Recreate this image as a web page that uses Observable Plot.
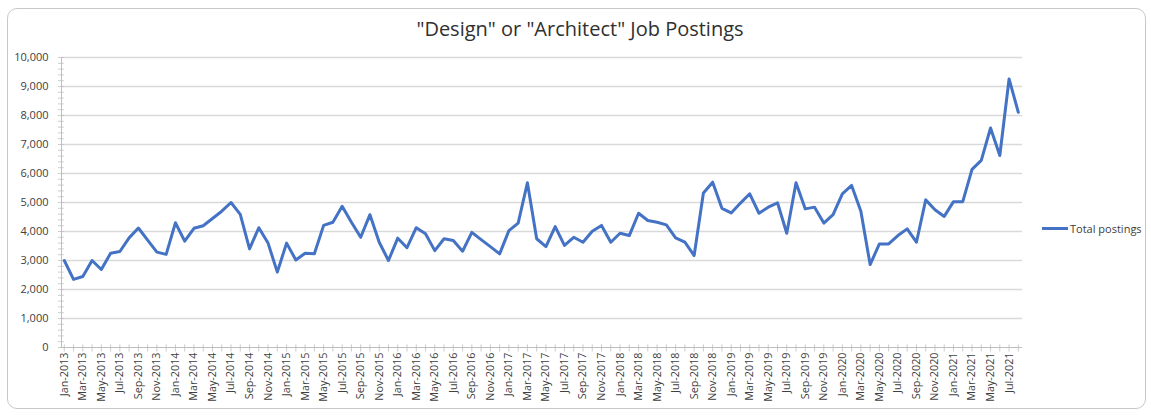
<!DOCTYPE html>
<html>
<head>
<meta charset="utf-8">
<script src="https://cdn.jsdelivr.net/npm/d3@7"></script>
<script src="https://cdn.jsdelivr.net/npm/@observablehq/plot@0.6"></script>
<style>
  html, body { margin: 0; padding: 0; background: #fff; }
  #wrap { position: relative; width: 1151px; height: 415px; overflow: hidden; font-family: "Open Sans", sans-serif; }
  #border { position: absolute; left: 7px; top: 8px; width: 1139px; height: 401px; border: 1px solid #c8c8c8; border-radius: 10px; box-sizing: border-box; }
  #title { position: absolute; left: 0; width: 1160px; top: 15px; text-align: center; font-size: 20px; color: #303030; }
  #chart { position: absolute; left: 0; top: 0; }
  #legend { position: absolute; left: 1042px; top: 221px; display: flex; align-items: center; font-size: 11px; color: #404040; }
  #legend .sw { width: 26px; height: 3px; background: #4472c4; margin-right: 2px; }
</style>
</head>
<body>
<div id="wrap">
  <div id="border"></div>
  <div id="chart"></div>
  <div id="title">"Design" or "Architect" Job Postings</div>
  <div id="legend"><span class="sw"></span><span>Total postings</span></div>
</div>
<script>
const monthNames = ["Jan","Feb","Mar","Apr","May","Jun","Jul","Aug","Sep","Oct","Nov","Dec"];
const years = [2013, 2014, 2015, 2016, 2017, 2018, 2019, 2020, 2021];
const seriesName = "Total postings";
const postings = [
  // 2013
  3000, 2350, 2450, 3000, 2690, 3250, 3310, 3780, 4120, 3700, 3290, 3210,
  // 2014
  4300, 3670, 4110, 4200, 4450, 4700, 5000, 4590, 3400, 4130, 3600, 2600,
  // 2015
  3600, 3020, 3250, 3230, 4210, 4320, 4870, 4320, 3800, 4580, 3630, 3000,
  // 2016
  3770, 3440, 4130, 3920, 3340, 3750, 3690, 3320, 3970, 3720, 3480, 3230,
  // 2017
  4030, 4290, 5680, 3750, 3480, 4170, 3520, 3800, 3630, 4010, 4210, 3630,
  // 2018
  3940, 3860, 4630, 4380, 4320, 4230, 3780, 3630, 3170, 5330, 5700, 4800,
  // 2019
  4640, 4980, 5300, 4630, 4840, 4990, 3940, 5680, 4780, 4840, 4290, 4580,
  // 2020
  5300, 5590, 4700, 2860, 3570, 3570, 3860, 4090, 3630, 5090, 4750, 4520,
  // 2021
  5030, 5030, 6140, 6450, 7570, 6620, 9260, 8110
];
const yTicks = [0, 1000, 2000, 3000, 4000, 5000, 6000, 7000, 8000, 9000, 10000];

const labels = postings.map((_, i) => monthNames[i % 12] + "-" + years[Math.floor(i / 12)]);
const data = postings.map((v, i) => ({i, label: labels[i], value: v}));
const idx = d3.range(postings.length);
const labelIdx = idx.filter(i => i % 2 === 0);
const minorY = d3.range(0, 10001, 200);

const chart = Plot.plot({
  width: 1151,
  height: 415,
  marginLeft: 61,
  marginRight: 129,
  marginTop: 57,
  marginBottom: 68,
  style: {fontFamily: "'Open Sans', sans-serif", background: "transparent", overflow: "visible"},
  x: {type: "linear", domain: [-0.3, 103.45], axis: null},
  y: {domain: [0, 10000], axis: null},
  marks: [
    Plot.ruleY(yTicks.slice(1), {stroke: "#d9d9d9", strokeWidth: 1.3}),
    // y axis line + minor ticks
    Plot.ruleX([-0.3], {stroke: "#bfbfbf"}),
    Plot.ruleY(minorY, {x1: -0.62, x2: -0.0, stroke: "#bfbfbf", strokeWidth: 0.8}),
    // x axis line + month ticks
    Plot.ruleY([0], {x1: -0.3, x2: 103.45, stroke: "#bfbfbf"}),
    Plot.ruleX(idx, {x: d => d, y1: -160, y2: 90, stroke: "#bfbfbf", strokeWidth: 0.8}),
    // y labels
    Plot.text(yTicks, {x: -0.3, y: d => d, text: d => d3.format(",")(d), textAnchor: "end", dx: -13, fontSize: 11, fill: "#404040"}),
    // x labels
    Plot.text(labelIdx, {x: d => d, y: 0, text: d => labels[d], rotate: -90, textAnchor: "end", dy: 5, fontSize: 10.8, fill: "#404040"}),
    Plot.line(data, {x: "i", y: "value", stroke: "#4472c4", strokeWidth: 3, strokeLinejoin: "round", strokeLinecap: "round"})
  ]
});
document.getElementById("chart").appendChild(chart);
</script>
</body>
</html>
